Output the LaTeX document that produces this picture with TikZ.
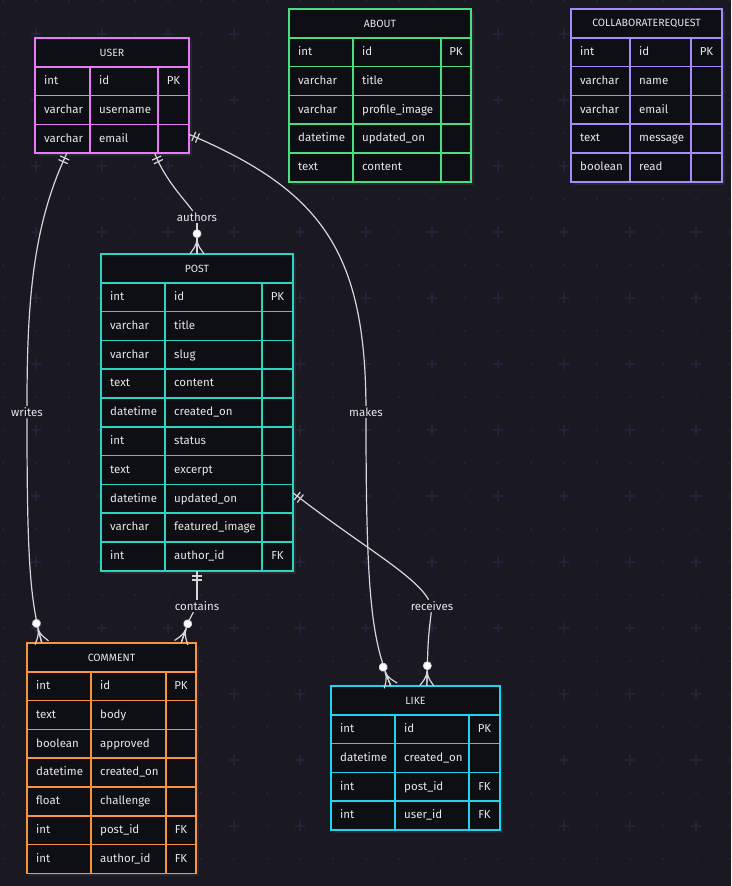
\documentclass[tikz,border=0pt]{standalone}
\usepackage{fontspec}
\setmainfont{Fira Sans}
\usetikzlibrary{decorations.markings}
\usetikzlibrary{fit}

\definecolor{canvas}{HTML}{1A1922}
\definecolor{tfill}{HTML}{0E0E15}
\definecolor{tshade}{HTML}{27262E}
\definecolor{gridc}{HTML}{242238}
\definecolor{txt}{HTML}{E6E6EA}
\definecolor{linec}{HTML}{D6D6DA}
\definecolor{cuser}{HTML}{E879F9}
\definecolor{cabout}{HTML}{4ADE80}
\definecolor{ccollab}{HTML}{A78BFA}
\definecolor{cpost}{HTML}{2DD4BF}
\definecolor{ccomment}{HTML}{FB923C}
\definecolor{clike}{HTML}{22D3EE}

\tikzset{
  cell/.style={draw=#1, fill=tfill, line width=1.5pt},
  tshadow/.style={fill=tshade},
  thead/.style={text=txt, font=\fontsize{10.5}{12}\selectfont, inner sep=0pt},
  tcell/.style={anchor=west, text=txt, font=\fontsize{11.5}{13}\selectfont,
    inner sep=0pt, text height=7.5pt, text depth=1pt},
  tkey/.style={tcell, anchor=center},
  lbl/.style={fill=canvas, text=txt, font=\fontsize{11.5}{13}\selectfont, inner sep=1.5pt},
  rel/.style={draw=linec, line width=1.2pt},
  one/.style={postaction={decorate, decoration={markings,
    mark=at position 5pt with {\draw[rel] (0,-5pt) -- (0,5pt);},
    mark=at position 9pt with {\draw[rel] (0,-5pt) -- (0,5pt);}}}},
  many/.style={postaction={decorate, decoration={markings,
    mark=at position -0.1pt with {
      \draw[rel] (-15pt,0) -- (0,0)
        (-15pt,0) .. controls (-8pt,0pt) and (-3pt,5pt) .. (0,7pt)
        (-15pt,0) .. controls (-8pt,0pt) and (-3pt,-5pt) .. (0,-7pt);
      \filldraw[fill=white, draw=linec, line width=0.8pt] (-20pt,0) circle (4pt);}}}}
}

% #1 name, #2 colour, #3 left, #4 top, #5 2nd column, #6 3rd column, #7 right, #8 title, #9 rows
\newcommand{\erdtable}[9]{%
  \fill[tshadow] (#3+3,#4+3) rectangle (#7+3,#4+31.8);
  \draw[cell=#2] (#3,#4) rectangle (#7,#4+28.8);
  \node[thead] at ({(#3+#7)/2},#4+14.4) {#8};
  \coordinate (#1-tl) at (#3,#4);
  \foreach \ty/\nm/\ky [count=\i] in {#9}{
    \pgfmathsetmacro\ya{#4+28.8*\i}
    \pgfmathsetmacro\yb{\ya+28.8}
    \fill[tshadow] (#3+3,\ya+3) rectangle (#7+3,\yb+3);
    \draw[cell=#2] (#3,\ya) rectangle (#5,\yb) (#5,\ya) rectangle (#6,\yb) (#6,\ya) rectangle (#7,\yb);
    \node[tcell] at (#3+9,\ya+14.4) {\ty};
    \node[tcell] at (#5+9,\ya+14.4) {\nm};
    \node[tkey] at ({(#6+#7)/2},\ya+14.4) {\ky};
    \coordinate (#1-br) at (#7,\yb);
  }
  \node[fit=(#1-tl)(#1-br), inner sep=0pt] (#1) {};
}

\begin{document}
\begin{tikzpicture}[x=1pt, y=-1pt]
  \useasboundingbox (0,0) rectangle (731,886);
  \fill[canvas] (0,0) rectangle (731,886);
  % dotted grid with crosses
  \foreach \gx in {0,...,22} \foreach \gy in {0,...,26}
    \fill[gridc] (3+33*\gx,1+33*\gy) circle (1.4pt);
  \foreach \gx in {0,...,10} \foreach \gy in {0,...,12}
    \draw[gridc, line width=2.4pt] (31+66*\gx,34+66*\gy) -- ++(10,0) (36+66*\gx,29+66*\gy) -- ++(0,10);

  % entities
  \erdtable{user}{cuser}{35}{38}{90}{158}{189}{USER}
    {int/id/PK, varchar/username/{}, varchar/email/{}}
  \erdtable{about}{cabout}{289}{9}{353}{441}{471}{ABOUT}
    {int/id/PK, varchar/title/{}, varchar/profile\_image/{}, datetime/updated\_on/{}, text/content/{}}
  \erdtable{collab}{ccollab}{571}{9}{630}{691}{722}{COLLABORATEREQUEST}
    {int/id/PK, varchar/name/{}, varchar/email/{}, text/message/{}, boolean/read/{}}
  \erdtable{post}{cpost}{101}{254}{165}{262}{293}{POST}
    {int/id/PK, varchar/title/{}, varchar/slug/{}, text/content/{}, datetime/created\_on/{},
     int/status/{}, text/excerpt/{}, datetime/updated\_on/{}, varchar/featured\_image/{}, int/author\_id/FK}
  \erdtable{comment}{ccomment}{27}{643}{91}{166}{196}{COMMENT}
    {int/id/PK, text/body/{}, boolean/approved/{}, datetime/created\_on/{}, float/challenge/{},
     int/post\_id/FK, int/author\_id/FK}
  \erdtable{like}{clike}{331}{686}{395}{469}{500}{LIKE}
    {int/id/PK, datetime/created\_on/{}, int/post\_id/FK, int/user\_id/FK}

  % relationship labels
  \node[lbl] (writes) at (27,412) {writes};
  \node[lbl] (authors) at (197,217) {authors};
  \node[lbl] (makes) at (366,412) {makes};
  \node[lbl] (contains) at (197,606) {contains};
  \node[lbl] (receives) at (432,606) {receives};

  % relationships
  \draw[rel,one] ([xshift=32pt]user.south west) .. controls (33,225) and (27,300) .. (writes);
  \draw[rel,many] (writes) .. controls (27,560) and (30,600) .. ([xshift=15pt]comment.north west);
  \draw[rel,one] ([xshift=120pt]user.south west) .. controls (165,180) and (185,200) .. (authors);
  \draw[rel,many] (authors) .. controls (197,235) .. (post.north);
  \draw[rel,one] ([yshift=19pt]user.south east) .. controls (320,190) and (365,250) .. (makes);
  \draw[rel,many] (makes) .. controls (366,600) and (372,640) .. ([xshift=60pt]like.north west);
  \draw[rel,one] (post.south) -- (contains);
  \draw[rel,many] (contains) .. controls (189,620) .. ([xshift=-15pt]comment.north east);
  \draw[rel,one] ([yshift=78pt]post.south east) .. controls (360,545) and (415,575) .. (receives);
  \draw[rel,many] (receives) .. controls (428,640) .. ([xshift=96pt]like.north west);
\end{tikzpicture}
\end{document}
